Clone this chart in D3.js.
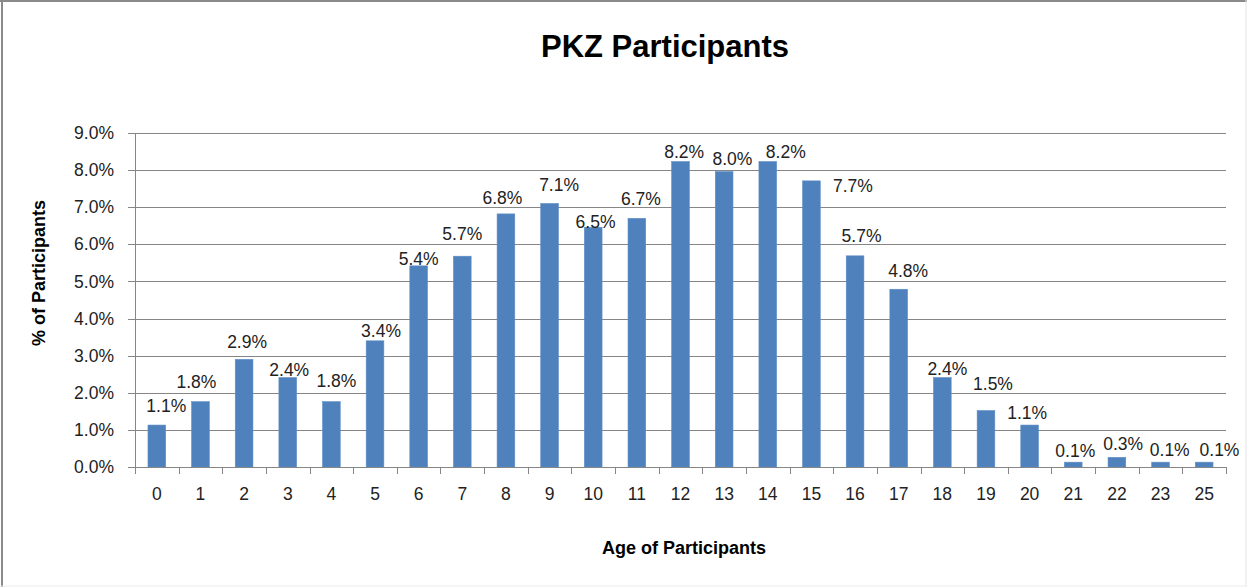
<!DOCTYPE html>
<html>
<head>
<meta charset="utf-8">
<script src="https://cdn.jsdelivr.net/npm/d3@7"></script>
<style>
  html, body { margin: 0; padding: 0; background: #fff; }
  svg { display: block; font-family: "Liberation Sans", Arial, sans-serif; }
  .grid line { stroke: #868686; stroke-width: 1; shape-rendering: crispEdges; }
  .grid path { display: none; }
  .axis path, .axis line { stroke: #868686; shape-rendering: crispEdges; }
  .axis text { fill: #222; font-size: 17.5px; }
</style>
</head>
<body>
<svg id="chart" width="1247" height="587"></svg>
<script>
// ages on the x axis (note: no 24 in the source)
var ages = ["0", "1", "2", "3", "4", "5", "6", "7", "8", "9", "10", "11", "12",
            "13", "14", "15", "16", "17", "18", "19", "20", "21", "22", "23", "25"];
// % of participants per age
var pct = [1.13, 1.76, 2.90, 2.41, 1.76, 3.40, 5.42, 5.68, 6.82, 7.10, 6.46, 6.70, 8.23,
           7.96, 8.23, 7.71, 5.69, 4.79, 2.41, 1.52, 1.13, 0.13, 0.26, 0.13, 0.13];
var yTicks = [0, 1, 2, 3, 4, 5, 6, 7, 8, 9];

// hand placed data labels in the original: [dx, lift above bar top]
var labelNudge = [[9.5, 13], [-4, 14], [3, 11], [1.5, 2], [5, 14.5], [6, 3.5], [0, 0.5],
                  [0, 16], [-3.5, 10], [9.5, 13], [2.3, -0.5], [4, 13], [3.7, 3.5],
                  [8.3, 6.5], [18, 3.5], [41.5, -11], [6.5, 14], [9.5, 12.5], [5, 2.7],
                  [7, 21], [-2.4, 5.7], [2, 5], [6.3, 7], [9.2, 6], [15.3, 6]];

var svg = d3.select("#chart"),
    WIDTH = 1247,
    HEIGHT = 587,
    MARGINS = { top: 133, right: 21, bottom: 120, left: 135 },
    x0 = MARGINS.left,
    x1 = WIDTH - MARGINS.right,
    yBottom = HEIGHT - MARGINS.bottom;

// outer chart frame
svg.append("line").attr("x1", 0).attr("x2", WIDTH).attr("y1", 1).attr("y2", 1)
    .attr("stroke", "#8a8a8a").attr("stroke-width", 2);
svg.append("line").attr("x1", 2).attr("x2", 2).attr("y1", 0).attr("y2", HEIGHT)
    .attr("stroke", "#8a8a8a").attr("stroke-width", 2);
svg.append("line").attr("x1", WIDTH - 1).attr("x2", WIDTH - 1).attr("y1", 0).attr("y2", HEIGHT)
    .attr("stroke", "#e4e4e4").attr("stroke-width", 1);
svg.append("line").attr("x1", 0).attr("x2", WIDTH).attr("y1", HEIGHT - 1).attr("y2", HEIGHT - 1)
    .attr("stroke", "#ececec").attr("stroke-width", 1);

var xScale = d3.scaleBand().domain(ages).range([x0, x1]).paddingInner(0.595).paddingOuter(0.2975),
    yScale = d3.scaleLinear().domain([0, 9]).range([yBottom, MARGINS.top]),
    slotScale = d3.scaleLinear().domain([0, ages.length]).range([x0, x1]);

// gridlines + y axis
svg.append("g")
    .attr("class", "grid")
    .attr("transform", "translate(" + x0 + ",0)")
    .call(d3.axisLeft(yScale).tickValues(yTicks).tickSize(-(x1 - x0)).tickFormat(""));

svg.append("g")
    .attr("class", "axis y")
    .attr("transform", "translate(" + x0 + ",0)")
    .call(d3.axisLeft(yScale).tickValues(yTicks).tickSize(7).tickPadding(14)
        .tickFormat(function(d) { return d3.format(".1f")(d) + "%"; }));

// bars
svg.append("g").selectAll("rect")
    .data(pct)
    .join("rect")
    .attr("x", function(d, i) { return xScale(ages[i]); })
    .attr("y", function(d) { return yScale(d); })
    .attr("width", xScale.bandwidth())
    .attr("height", function(d) { return yBottom - yScale(d); })
    .attr("fill", "#4f81bd")
    .attr("stroke", "#5b8cc6")
    .attr("stroke-width", 0.6);

// x axis: ticks sit between categories
svg.append("g")
    .attr("class", "axis x")
    .attr("transform", "translate(0," + yBottom + ")")
    .call(d3.axisBottom(slotScale).tickValues(d3.range(ages.length + 1)).tickSize(7).tickFormat(""));

svg.append("g")
    .attr("class", "axis xlab")
    .attr("transform", "translate(0," + yBottom + ")")
    .call(d3.axisBottom(xScale).tickSize(0).tickPadding(21))
    .call(function(g) { g.select(".domain").remove(); });

// data labels
svg.append("g").selectAll("text")
    .data(pct)
    .join("text")
    .attr("x", function(d, i) { return xScale(ages[i]) + xScale.bandwidth() / 2 + labelNudge[i][0]; })
    .attr("y", function(d, i) { return yScale(d) - labelNudge[i][1]; })
    .attr("text-anchor", "middle")
    .attr("font-size", "17.5px")
    .attr("fill", "#222")
    .text(function(d) { return d.toFixed(1) + "%"; });

// titles
svg.append("text")
    .attr("x", 665).attr("y", 56.5)
    .attr("text-anchor", "middle")
    .attr("font-size", "31px").attr("font-weight", "bold")
    .text("PKZ Participants");

svg.append("text")
    .attr("x", 684).attr("y", 554)
    .attr("text-anchor", "middle")
    .attr("font-size", "18px").attr("font-weight", "bold")
    .text("Age of Participants");

svg.append("text")
    .attr("transform", "translate(45,273) rotate(-90)")
    .attr("text-anchor", "middle")
    .attr("font-size", "18px").attr("font-weight", "bold")
    .text("% of Participants");
</script>
</body>
</html>
